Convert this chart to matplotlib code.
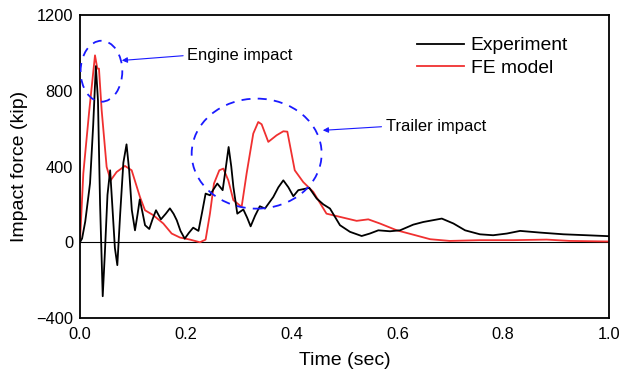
import matplotlib
matplotlib.use("Agg")
import matplotlib.pyplot as plt
from matplotlib.patches import Ellipse

plt.rcParams['font.family'] = ['Liberation Sans', 'DejaVu Sans']

# Measured impact force (kip) vs time (sec)
exp_t = [0.0, 0.004, 0.010, 0.019, 0.025, 0.030, 0.034, 0.038, 0.043, 0.047, 0.052, 0.057,
         0.061, 0.066, 0.0706, 0.076, 0.082, 0.088, 0.093, 0.098, 0.104, 0.109, 0.113,
         0.118, 0.123, 0.131, 0.137, 0.1437, 0.153, 0.162, 0.170, 0.177, 0.183, 0.190,
         0.198, 0.206, 0.214, 0.224, 0.231, 0.2375, 0.2457, 0.2525, 0.2596, 0.2697,
         0.275, 0.281, 0.286, 0.290, 0.2974, 0.3088, 0.316, 0.3226, 0.331, 0.340,
         0.3497, 0.3654, 0.375, 0.3844, 0.394, 0.4033, 0.4127, 0.4335, 0.4474, 0.460,
         0.4726, 0.4915, 0.5104, 0.5325, 0.548, 0.564, 0.586, 0.605, 0.630, 0.649, 0.684,
         0.706, 0.728, 0.756, 0.781, 0.807, 0.832, 0.870, 0.914, 0.958, 1.0]
exp_f = [0, 20, 110, 311, 620, 930, 750, 200, -285, -60, 250, 380,
         200, -30, -121, 150, 420, 517, 380, 170, 63, 150, 226,
         160, 90, 70, 120, 169, 121, 150, 179, 150, 116, 60,
         19, 50, 77, 60, 160, 257, 248, 280, 310, 275,
         380, 503, 400, 292, 151, 173, 130, 84, 140, 190,
         178, 239, 290, 327, 290, 243, 275, 287, 231, 200,
         178, 90, 55, 33, 46, 63, 58, 63, 93, 107, 125,
         99, 63, 42, 37, 46, 60, 51, 42, 37, 32]

# Finite element model impact force (kip) vs time (sec)
fe_t = [0.0, 0.0063, 0.0176, 0.0284, 0.0328, 0.0359, 0.041, 0.0504, 0.058, 0.0693, 0.085,
        0.0977, 0.1134, 0.1229, 0.1386, 0.1575, 0.1733, 0.189, 0.208, 0.2268, 0.2375,
        0.2457, 0.2533, 0.2634, 0.271, 0.2804, 0.290, 0.3056, 0.315, 0.3276, 0.337,
        0.3434, 0.356, 0.3718, 0.3844, 0.392, 0.406, 0.422, 0.441, 0.466, 0.4915, 0.523,
        0.545, 0.567, 0.599, 0.630, 0.662, 0.699, 0.756, 0.819, 0.882, 0.926, 1.0]
fe_f = [0, 363, 697, 987, 917, 917, 697, 398, 327, 371, 403,
        380, 239, 169, 143, 99, 46, 25, 14, 0, 14,
        151, 310, 380, 389, 327, 222, 187, 363, 574, 635,
        623, 530, 565, 586, 584, 380, 318, 266, 151, 134, 113,
        121, 99, 63, 40, 16, 7, 11, 11, 14, 7, 4]

x_ticks = [0.0, 0.2, 0.4, 0.6, 0.8, 1.0]
y_ticks = [-400, 0, 400, 800, 1200]

fig = plt.figure(figsize=(6.19, 3.77), dpi=100)
ax = fig.add_axes([0.1292, 0.1565, 0.8546, 0.8037])

ax.axhline(0, color='black', lw=0.8, zorder=1)
ax.plot(exp_t, exp_f, color='black', lw=1.3, label='Experiment', zorder=3)
ax.plot(fe_t, fe_f, color='#f03030', lw=1.3, label='FE model', zorder=2)

ax.set_xlim(0, 1.0)
ax.set_ylim(-400, 1200)
ax.set_xticks(x_ticks)
ax.set_xticklabels([f"{v:.1f}" for v in x_ticks])
ax.set_yticks(y_ticks)
ax.tick_params(axis='y', length=0, labelsize=11.8, pad=5)
ax.tick_params(axis='x', length=0, labelsize=11.8, pad=6.5)
for s in ax.spines.values():
    s.set_linewidth(1.3)

ax.set_xlabel('Time (sec)', fontsize=14, labelpad=7)
ax.set_ylabel('Impact force (kip)', fontsize=14, labelpad=6)

# Dashed ellipses marking the impact phases
for (cx, cy, w, h) in [(0.0406, 903, 0.0788, 322), (0.334, 468, 0.2457, 581)]:
    ax.add_patch(Ellipse((cx, cy), w, h, fill=False, edgecolor='#1a1aff',
                         lw=1.3, linestyle=(0, (5, 4)), zorder=4))

arrow = dict(arrowstyle='-|>', color='#1a1aff', lw=0.8, mutation_scale=8,
             shrinkA=0, shrinkB=0)
ax.annotate('', xy=(0.079, 960), xytext=(0.195, 985), arrowprops=arrow)
ax.text(0.202, 987, 'Engine impact', fontsize=11.9, va='center', ha='left')
ax.annotate('', xy=(0.459, 591), xytext=(0.570, 610), arrowprops=arrow)
ax.text(0.578, 613, 'Trailer impact', fontsize=11.9, va='center', ha='left')

ax.legend(loc='upper right', bbox_to_anchor=(0.955, 0.985), frameon=False,
          fontsize=13.9, handlelength=2.4, handletextpad=0.35, labelspacing=0.25)

fig.savefig('out.png', dpi=100)
